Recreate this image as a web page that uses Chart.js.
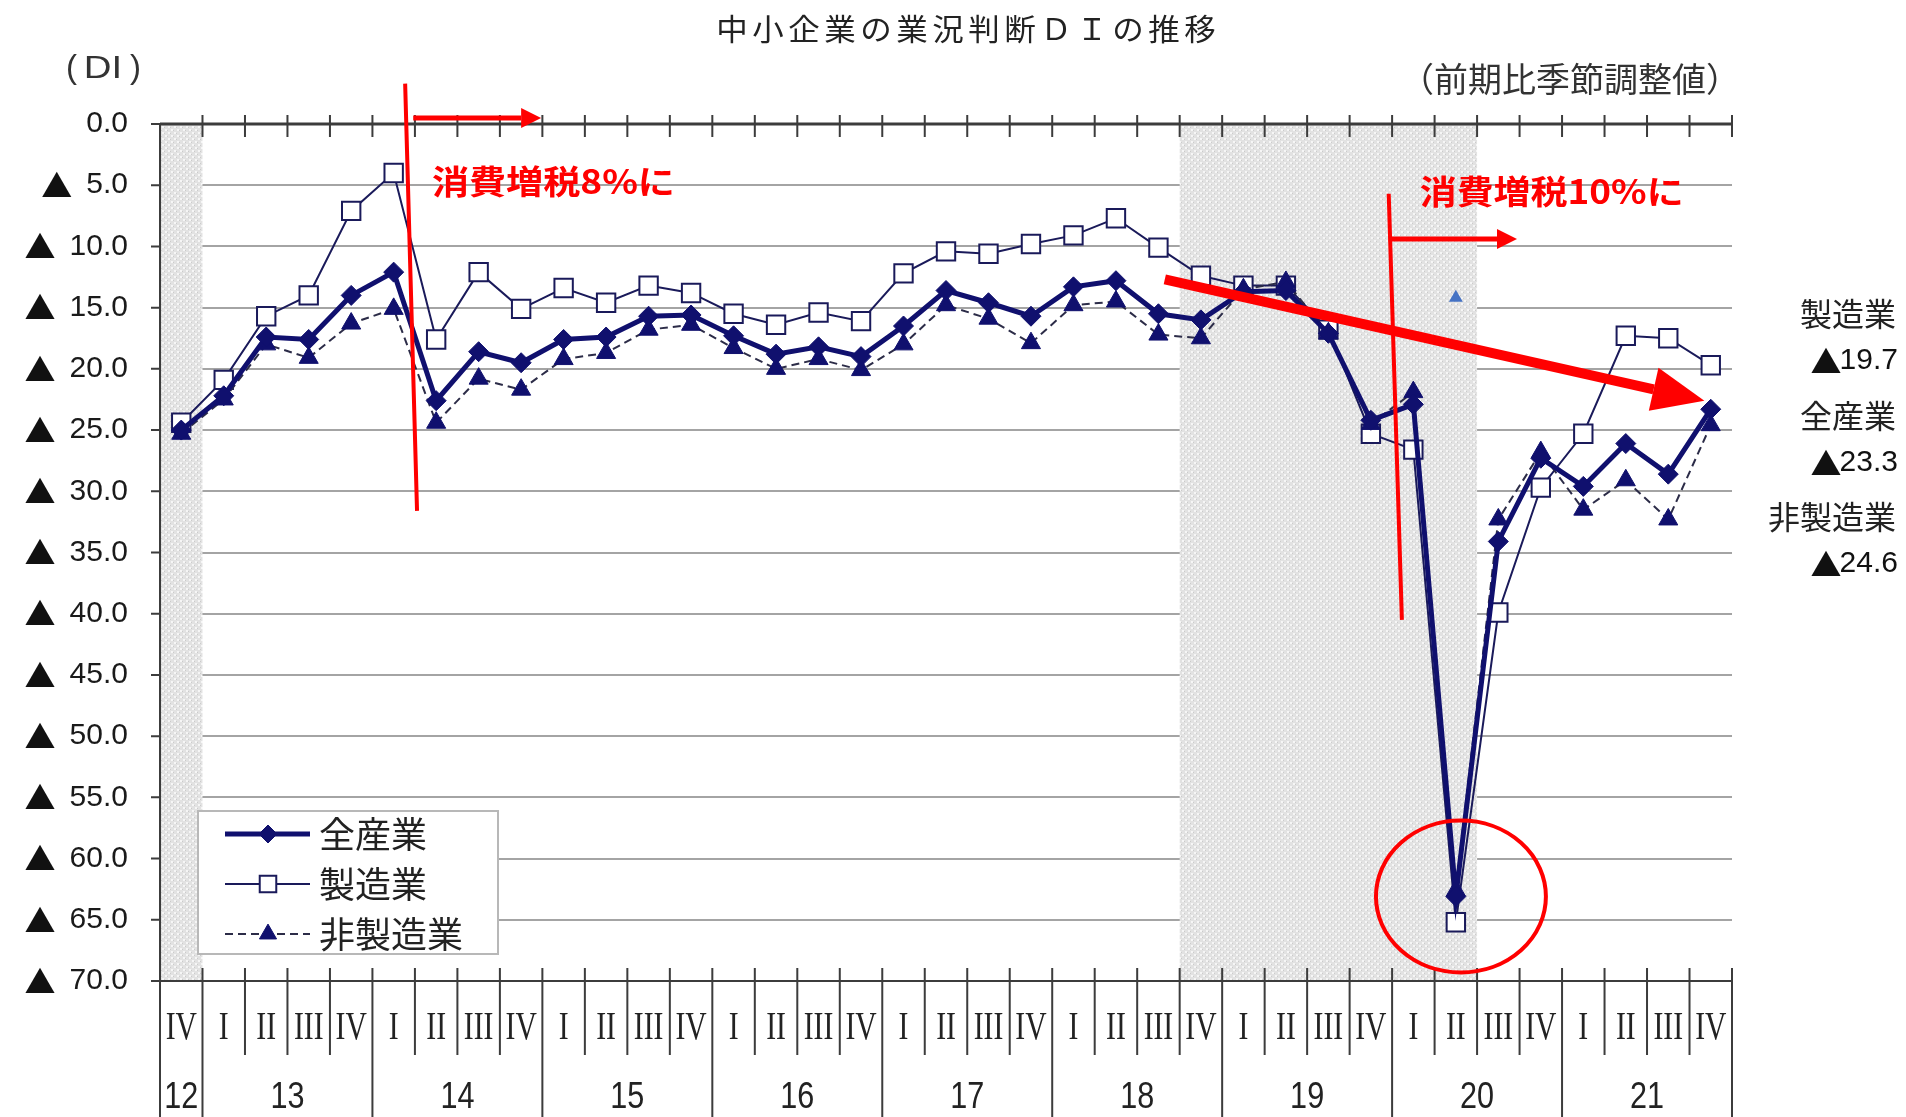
<!DOCTYPE html>
<html lang="ja">
<head>
<meta charset="utf-8">
<title>中小企業の業況判断ＤＩの推移</title>
<script src="https://cdn.jsdelivr.net/npm/chart.js@4.4.1/dist/chart.umd.min.js"></script>
<style>
html, body { margin: 0; padding: 0; background: #fff; }
#di-chart { display: block; }
</style>
</head>
<body>
<canvas id="di-chart" width="1906" height="1117"></canvas>
<script>
// 四半期 (2012年IV期 ～ 2021年IV期)
var quarterLabels = ['IV',
	'I', 'II', 'III', 'IV', 'I', 'II', 'III', 'IV', 'I', 'II', 'III', 'IV',
	'I', 'II', 'III', 'IV', 'I', 'II', 'III', 'IV', 'I', 'II', 'III', 'IV',
	'I', 'II', 'III', 'IV', 'I', 'II', 'III', 'IV', 'I', 'II', 'III', 'IV'];
// 年ラベルと各年の四半期数
var yearLabels = ['12', '13', '14', '15', '16', '17', '18', '19', '20', '21'];
var yearSpans = [1, 4, 4, 4, 4, 4, 4, 4, 4, 4];

// 全産業
var allIndustry = [-25.0, -22.2, -17.4, -17.6, -14.0, -12.1, -22.6, -18.6, -19.5,
	-17.6, -17.4, -15.7, -15.6, -17.3, -18.8, -18.2, -19.0, -16.5, -13.6, -14.6,
	-15.7, -13.3, -12.8, -15.5, -16.0, -13.7, -13.6, -17.1, -24.2, -22.9, -63.1,
	-34.1, -27.3, -29.6, -26.1, -28.6, -23.3];
// 製造業
var manufacturing = [-24.4, -20.9, -15.7, -14.0, -7.1, -4.0, -17.6, -12.1, -15.1,
	-13.4, -14.6, -13.2, -13.8, -15.5, -16.4, -15.4, -16.1, -12.2, -10.4, -10.6,
	-9.8, -9.1, -7.7, -10.1, -12.4, -13.2, -13.2, -16.8, -25.3, -26.6, -65.2,
	-39.9, -29.7, -25.3, -17.3, -17.5, -19.7];
// 非製造業
var nonManufacturing = [-25.3, -22.5, -18.0, -19.1, -16.3, -15.1, -24.4, -20.8, -21.7,
	-19.2, -18.7, -16.8, -16.4, -18.3, -20.0, -19.2, -20.1, -18.0, -14.8, -15.9,
	-17.9, -14.8, -14.5, -17.2, -17.5, -13.5, -12.9, -17.1, -24.5, -21.9, -62.6,
	-32.3, -26.8, -31.5, -29.1, -32.3, -24.6];

// 縦軸目盛
var yTicks = [0, -5, -10, -15, -20, -25, -30, -35, -40, -45, -50, -55, -60, -65, -70];
// 網掛け期間 (四半期の番号)
var shadedRanges = [[0, 0], [24, 30]];
// 図中の青い三角 (20年II期の列)
var strayMarkIndex = [30];
var strayMarkValue = [-14.2];

var DIChart;

$ready(function() {
	initView();
});

function $ready(fn) {
	if (document.readyState !== 'loading') fn();
	else document.addEventListener('DOMContentLoaded', fn);
}

/**
 * 画面初期化
 * @returns
 */
function initView() {
	createChart();
}

/**
 * カテゴリ番号 -> X座標 (小数も可)
 */
function xAt(chart, idx) {
	var s = chart.scales.x;
	var p0 = s.getPixelForValue(0);
	var p1 = s.getPixelForValue(1);
	return p0 + (p1 - p0) * idx;
}

function yAt(chart, v) {
	return chart.scales.y.getPixelForValue(v);
}

function bandWidth(chart) {
	return xAt(chart, 1) - xAt(chart, 0);
}

/**
 * テキスト描画
 */
function putText(ctx, text, x, y, font, color, align, sx) {
	ctx.save();
	ctx.font = font;
	ctx.fillStyle = color;
	ctx.textAlign = align || 'left';
	ctx.textBaseline = 'middle';
	ctx.translate(x, y);
	ctx.scale(sx || 1, 1);
	ctx.fillText(text, 0, 0);
	ctx.restore();
}

function textWidth(ctx, text, font) {
	ctx.save();
	ctx.font = font;
	var w = ctx.measureText(text).width;
	ctx.restore();
	return w;
}

/**
 * 矢印描画
 */
function drawArrow(ctx, x1, y1, x2, y2, width, headLen, headHalf, color) {
	var ang = Math.atan2(y2 - y1, x2 - x1);
	var bx = x2 - Math.cos(ang) * headLen;
	var by = y2 - Math.sin(ang) * headLen;
	ctx.save();
	ctx.strokeStyle = color;
	ctx.fillStyle = color;
	ctx.lineWidth = width;
	ctx.lineCap = 'butt';
	ctx.beginPath();
	ctx.moveTo(x1, y1);
	ctx.lineTo(bx, by);
	ctx.stroke();
	ctx.beginPath();
	ctx.moveTo(x2, y2);
	ctx.lineTo(bx + Math.sin(ang) * headHalf, by - Math.cos(ang) * headHalf);
	ctx.lineTo(bx - Math.sin(ang) * headHalf, by + Math.cos(ang) * headHalf);
	ctx.closePath();
	ctx.fill();
	ctx.restore();
}

/**
 * 網掛けパターン
 */
function makeHatch(ctx) {
	var c = document.createElement('canvas');
	c.width = 6;
	c.height = 6;
	var g = c.getContext('2d');
	g.fillStyle = '#e2e2e2';
	g.fillRect(0, 0, 6, 6);
	g.fillStyle = '#f6f6f6';
	g.fillRect(0, 0, 2, 2);
	g.fillRect(3, 3, 2, 2);
	g.fillStyle = '#cbcbcb';
	g.fillRect(2, 1, 1, 1);
	g.fillRect(5, 4, 1, 1);
	return ctx.createPattern(c, 'repeat');
}

var decorPlugin = {
	id: 'decor',
	beforeDatasetsDraw: function(chart) {
		var ctx = chart.ctx;
		var area = chart.chartArea;

		// 網掛け
		ctx.save();
		ctx.fillStyle = makeHatch(ctx);
		shadedRanges.forEach(function(r) {
			var x1 = xAt(chart, r[0] - 0.5);
			var x2 = xAt(chart, r[1] + 0.5);
			ctx.fillRect(x1, area.top, x2 - x1, area.bottom - area.top);
		});
		ctx.restore();

		// 軸線
		ctx.save();
		ctx.strokeStyle = '#3c3c3c';
		ctx.lineWidth = 3;
		ctx.beginPath();
		ctx.moveTo(area.left, area.top);
		ctx.lineTo(area.right, area.top);
		ctx.stroke();
		ctx.lineWidth = 2;
		ctx.beginPath();
		ctx.moveTo(area.left, area.bottom);
		ctx.lineTo(area.right, area.bottom);
		ctx.moveTo(area.left, area.top);
		ctx.lineTo(area.left, chart.height);
		ctx.stroke();

		// 上端の目盛
		ctx.beginPath();
		for (var i = 1; i <= quarterLabels.length; i++) {
			var tx = xAt(chart, i - 0.5);
			ctx.moveTo(tx, area.top - 9);
			ctx.lineTo(tx, area.top + 13);
		}
		// 左の目盛
		yTicks.forEach(function(v) {
			var ty = yAt(chart, v);
			ctx.moveTo(area.left - 9, ty);
			ctx.lineTo(area.left, ty);
		});
		// 下の区切り線
		var yearEnd = {};
		var acc = 0;
		yearSpans.forEach(function(n) {
			acc += n;
			yearEnd[acc] = true;
		});
		for (var j = 1; j <= quarterLabels.length; j++) {
			var sx = xAt(chart, j - 0.5);
			ctx.moveTo(sx, area.bottom - 13);
			ctx.lineTo(sx, yearEnd[j] ? chart.height : area.bottom + 74);
		}
		ctx.stroke();
		ctx.restore();
	},
	afterDatasetsDraw: function(chart) {
		var ctx = chart.ctx;
		var area = chart.chartArea;
		var bw = bandWidth(chart);
		var red = '#ff0000';

		// 青い三角
		ctx.save();
		ctx.fillStyle = '#4472c4';
		strayMarkIndex.forEach(function(idx, k) {
			Chart.helpers.drawPoint(ctx, { pointStyle: 'triangle', radius: 8, rotation: 0, borderWidth: 0 },
				xAt(chart, idx), yAt(chart, strayMarkValue[k]));
		});
		ctx.restore();

		// 消費増税ライン
		ctx.save();
		ctx.strokeStyle = red;
		ctx.lineWidth = 4;
		ctx.beginPath();
		ctx.moveTo(xAt(chart, 5.27), yAt(chart, 3.3));
		ctx.lineTo(xAt(chart, 5.55), yAt(chart, -31.6));
		ctx.moveTo(xAt(chart, 28.42), yAt(chart, -5.7));
		ctx.lineTo(xAt(chart, 28.73), yAt(chart, -40.5));
		ctx.stroke();
		ctx.restore();

		drawArrow(ctx, xAt(chart, 5.46), yAt(chart, 0.5), xAt(chart, 8.47), yAt(chart, 0.5), 5, 20, 10, red);
		drawArrow(ctx, xAt(chart, 28.42), yAt(chart, -9.4), xAt(chart, 31.44), yAt(chart, -9.4), 5, 20, 10, red);

		// 注記テキスト
		var noteFont = 'bold 33px "Noto Sans CJK JP"';
		[['消費増税8%に', 5.9, -4.7, 5.72], ['消費増税10%に', 29.15, -5.5, 6.21]].forEach(function(t) {
			var w = textWidth(ctx, t[0], noteFont);
			putText(ctx, t[0], xAt(chart, t[1]), yAt(chart, t[2]), noteFont, red, 'left', (t[3] * bw) / w);
		});

		// 大きい矢印
		drawArrow(ctx, xAt(chart, 23.15), yAt(chart, -12.7), xAt(chart, 35.85), yAt(chart, -22.6), 10, 52, 22, red);

		// 丸印
		ctx.save();
		ctx.strokeStyle = red;
		ctx.lineWidth = 4;
		ctx.beginPath();
		var cy = yAt(chart, -63.1);
		ctx.ellipse(xAt(chart, 30.12), cy, 2.0 * bw, Math.abs(yAt(chart, -69.3) - cy), 0, 0, Math.PI * 2);
		ctx.stroke();
		ctx.restore();

		// 凡例
		var lx = area.left + 38;
		var ly = area.bottom - 170;
		ctx.save();
		ctx.fillStyle = '#ffffff';
		ctx.strokeStyle = '#b8b8b8';
		ctx.lineWidth = 2;
		ctx.fillRect(lx, ly, 300, 143);
		ctx.strokeRect(lx, ly, 300, 143);
		ctx.restore();
		chart.data.datasets.forEach(function(ds, k) {
			var rowY = ly + 23 + k * 50;
			ctx.save();
			ctx.strokeStyle = ds.borderColor;
			ctx.lineWidth = ds.borderWidth;
			ctx.setLineDash(ds.borderDash || []);
			ctx.beginPath();
			ctx.moveTo(lx + 27, rowY);
			ctx.lineTo(lx + 112, rowY);
			ctx.stroke();
			ctx.setLineDash([]);
			ctx.fillStyle = ds.pointBackgroundColor;
			ctx.strokeStyle = ds.pointBorderColor;
			ctx.lineWidth = ds.pointBorderWidth;
			Chart.helpers.drawPoint(ctx, { pointStyle: ds.pointStyle, radius: ds.pointRadius * 0.9, rotation: 0, borderWidth: ds.pointBorderWidth },
				lx + 70, rowY);
			ctx.restore();
			putText(ctx, ds.label, lx + 121, rowY, '36px "Noto Sans CJK JP"', '#222', 'left');
		});
	},
	afterDraw: function(chart) {
		var ctx = chart.ctx;
		var area = chart.chartArea;
		var numFont = '30px "Liberation Sans", Arial, sans-serif';
		var triFont = '31px "Noto Sans CJK JP"';

		// タイトル
		var title = '中小企業の業況判断ＤＩの推移';
		var tx0 = 966 - title.length * 36 / 2;
		for (var c = 0; c < title.length; c++) {
			putText(ctx, title.charAt(c), tx0 + c * 36 + 18, 29, '30px "Noto Sans CJK JP"', '#222', 'center', 1.05);
		}
		putText(ctx, '(', 66, 69, '33px "Liberation Sans"', '#333', 'left');
		putText(ctx, 'DI', 103, 69, '32px "Liberation Sans"', '#333', 'center', 1.2);
		putText(ctx, ')', 141, 69, '33px "Liberation Sans"', '#333', 'right');
		putText(ctx, '（前期比季節調整値）', area.right + 8, 79, '34px "Noto Sans CJK JP"', '#333', 'right');

		// 縦軸ラベル
		yTicks.forEach(function(v) {
			var ty = yAt(chart, v);
			var txt = Math.abs(v).toFixed(1);
			var rx = area.left - 32;
			putText(ctx, txt, rx, ty, numFont, '#1a1a1a', 'right');
			if (v < 0) {
				var w = textWidth(ctx, txt, numFont);
				putText(ctx, '▲', rx - w - 14, ty, triFont, '#111', 'right');
			}
		});

		// 横軸ラベル
		quarterLabels.forEach(function(q, i) {
			putText(ctx, q, xAt(chart, i), area.bottom + 47, '40px "Liberation Serif", serif', '#222', 'center', 0.74);
		});
		var start = 0;
		yearLabels.forEach(function(y, k) {
			var mid = start + (yearSpans[k] - 1) / 2;
			putText(ctx, y, xAt(chart, mid), area.bottom + 117, '36px "Liberation Sans", Arial, sans-serif', '#222', 'center', 0.85);
			start += yearSpans[k];
		});

		// 右側の最新値
		var last = quarterLabels.length - 1;
		var sideLabels = [
			[chart.data.datasets[1].label, manufacturing[last], 314],
			[chart.data.datasets[0].label, allIndustry[last], 416],
			[chart.data.datasets[2].label, nonManufacturing[last], 517]
		];
		sideLabels.forEach(function(s) {
			var num = Math.abs(s[1]).toFixed(1);
			var rx = chart.width - 8;
			putText(ctx, s[0], chart.width - 10, s[2], '32px "Noto Sans CJK JP"', '#222', 'right');
			putText(ctx, num, rx, s[2] + 47, numFont, '#111', 'right');
			putText(ctx, '▲', rx - textWidth(ctx, num, numFont) + 2, s[2] + 47, triFont, '#111', 'right');
		});
	}
};

/**
 * チャート生成
 * @returns
 */
function createChart() {
	var navy = '#10106e';
	DIChart = new Chart(document.getElementById('di-chart'), {
		type: 'line',
		data: {
			labels: quarterLabels.map(function(q, i) { return i + ':' + q; }),
			datasets: [{
				label: '全産業',
				data: allIndustry,
				order: 0,
				borderColor: navy,
				borderWidth: 5,
				pointStyle: 'rectRot',
				pointRadius: 10,
				pointBackgroundColor: navy,
				pointBorderColor: navy,
				pointBorderWidth: 1,
				tension: 0
			}, {
				label: '製造業',
				data: manufacturing,
				order: 2,
				borderColor: '#1a1a5a',
				borderWidth: 2,
				pointStyle: 'rect',
				pointRadius: 13,
				pointBackgroundColor: '#ffffff',
				pointBorderColor: '#1a1a5a',
				pointBorderWidth: 2,
				tension: 0
			}, {
				label: '非製造業',
				data: nonManufacturing,
				order: 1,
				borderColor: '#2c2c48',
				borderWidth: 2,
				borderDash: [8, 5],
				pointStyle: 'triangle',
				pointRadius: 11,
				pointBackgroundColor: navy,
				pointBorderColor: navy,
				pointBorderWidth: 1,
				tension: 0
			}]
		},
		options: {
			responsive: false,
			animation: false,
			devicePixelRatio: 1,
			layout: {
				padding: { top: 124, right: 174, left: 0, bottom: 0 }
			},
			plugins: {
				legend: { display: false },
				tooltip: { enabled: false },
				title: { display: false }
			},
			scales: {
				x: {
					offset: true,
					grid: { display: false },
					border: { display: false },
					ticks: { display: false },
					afterFit: function(s) { s.height = 136; }
				},
				y: {
					min: -70,
					max: 0,
					grid: { color: '#a4a4a4', lineWidth: 2, drawTicks: false },
					border: { display: false },
					ticks: { display: false, stepSize: 5 },
					afterFit: function(s) { s.width = 160; }
				}
			}
		},
		plugins: [decorPlugin]
	});
}
</script>
</body>
</html>
